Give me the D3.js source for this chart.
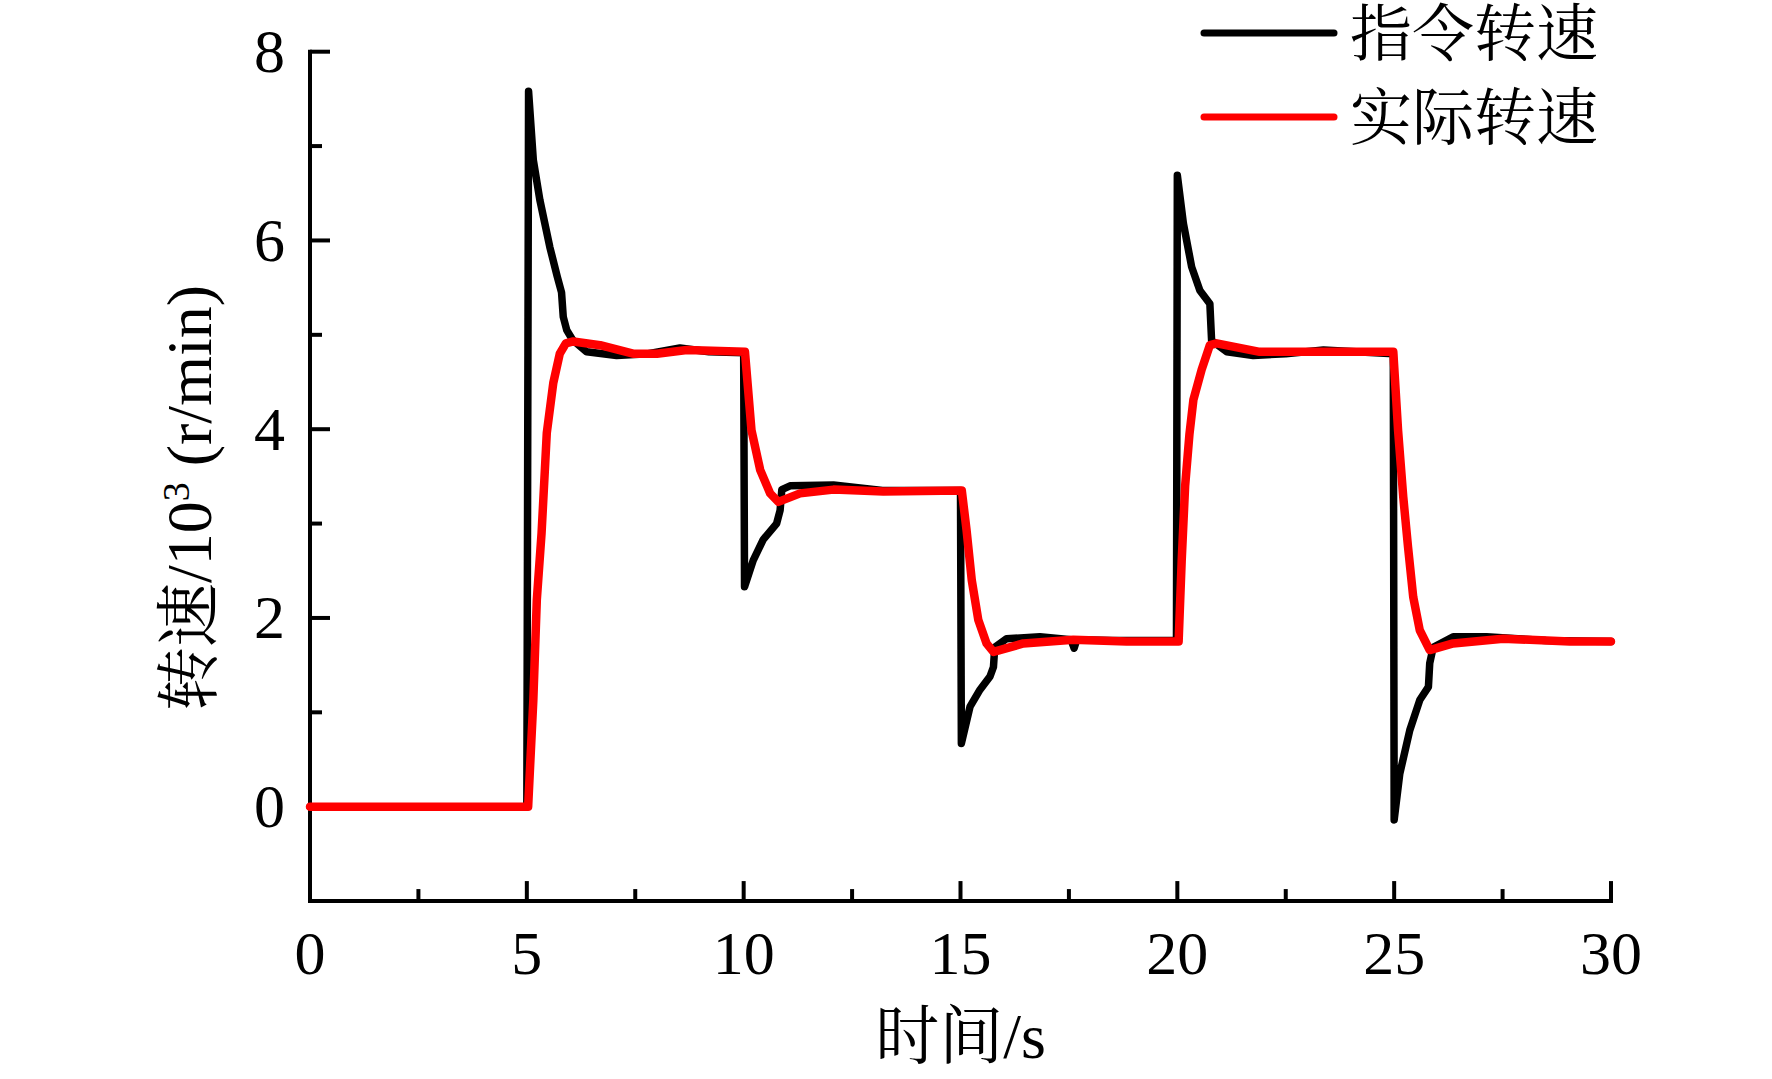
<!DOCTYPE html>
<html>
<head>
<meta charset="utf-8">
<script src="https://cdn.jsdelivr.net/npm/d3@7"></script>
<style>
  html, body { margin: 0; padding: 0; background: #fff; }
  svg { display: block; }
</style>
</head>
<body>
<svg id="chart" width="1772" height="1079"></svg>
<script>
// ---- data ----
const seriesNames = ["指令转速", "实际转速"];
const seriesColors = ["#000000", "#ff0000"];
const xTickValues = [0, 5, 10, 15, 20, 25, 30];
const yTickValues = [0, 2, 4, 6, 8];
const xTitle = "时间/s";
const yTitleMain = "转速/10";
const yTitleSup = "3";
const yTitleUnit = " (r/min)";

// command speed (black): [time s, speed x10^3 r/min]
const commandTime = [0, 5.0, 5.04, 5.15, 5.30, 5.53, 5.70, 5.80, 5.84, 5.92, 6.05, 6.38, 7.07, 7.8, 8.53, 9.2, 10.0,
  10.02, 10.22, 10.45, 10.76, 10.84, 10.88, 11.07, 12.07, 13.2, 15.0,
  15.02, 15.22, 15.45, 15.68, 15.76, 15.79, 16.06, 16.83, 17.55, 17.62, 17.68, 18.5, 19.98,
  20.0, 20.14, 20.33, 20.52, 20.75, 20.79, 21.14, 21.75, 22.5, 23.37, 24.98,
  25.0, 25.13, 25.36, 25.59, 25.79, 25.82, 25.9, 26.36, 27.13, 28.5, 30];
const commandSpeed = [0, 0, 7.58, 6.85, 6.43, 5.93, 5.62, 5.45, 5.19, 5.05, 4.95, 4.82, 4.78, 4.80, 4.86, 4.82, 4.81,
  2.33, 2.61, 2.83, 3.00, 3.14, 3.36, 3.40, 3.41, 3.35, 3.35,
  0.67, 1.06, 1.24, 1.38, 1.48, 1.69, 1.78, 1.80, 1.77, 1.68, 1.77, 1.76, 1.76,
  6.69, 6.18, 5.72, 5.47, 5.33, 4.94, 4.82, 4.78, 4.80, 4.84, 4.80,
  -0.14, 0.35, 0.81, 1.13, 1.27, 1.52, 1.69, 1.80, 1.80, 1.76, 1.75];

// actual speed (red)
const actualTime = [0, 5.03, 5.15, 5.23, 5.34, 5.46, 5.61, 5.76, 5.9, 6.07, 6.69, 7.45, 8.0, 8.69, 10.03,
  10.18, 10.38, 10.61, 10.80, 11.30, 12.07, 13.22, 15.03,
  15.14, 15.26, 15.41, 15.60, 15.76, 16.45, 17.6, 18.83, 20.03,
  20.1, 20.18, 20.28, 20.37, 20.56, 20.75, 20.91, 21.90, 23.44, 24.98,
  25.09, 25.21, 25.32, 25.44, 25.59, 25.82, 26.36, 27.51, 29.05, 30];
const actualSpeed = [0, 0, 1.13, 2.19, 2.90, 3.96, 4.49, 4.80, 4.91, 4.93, 4.89, 4.80, 4.80, 4.84, 4.82,
  3.99, 3.57, 3.32, 3.23, 3.32, 3.36, 3.34, 3.35,
  2.93, 2.40, 1.98, 1.73, 1.64, 1.73, 1.77, 1.75, 1.75,
  2.6, 3.4, 3.95, 4.31, 4.63, 4.89, 4.91, 4.82, 4.82, 4.82,
  3.99, 3.28, 2.75, 2.22, 1.87, 1.66, 1.73, 1.78, 1.75, 1.75];

// ---- layout ----
const svg = d3.select("#chart");
const serif = "'Times New Roman', 'Liberation Serif', 'Noto Serif CJK SC', 'Noto Sans CJK SC', serif";
const left = 310, right = 1611, yTopPx = 51.7, yZeroPx = 806.7;

const x = d3.scaleLinear().domain([0, 30]).range([left, right]);
const y = d3.scaleLinear().domain([0, 8]).range([yZeroPx, yTopPx]);
const yBottom = y(-1);

// axes lines
const axisG = svg.append("g").attr("stroke", "#000").attr("stroke-width", 4).attr("fill", "none");
axisG.append("path").attr("d", `M${x(0)},${y(8)}V${yBottom}H${x(30)}`).attr("stroke-linecap", "square");

// x ticks (inward)
const xMinor = d3.range(2.5, 30, 5);
axisG.selectAll(".xmaj").data(xTickValues).join("line")
  .attr("x1", d => x(d)).attr("x2", d => x(d)).attr("y1", yBottom).attr("y2", yBottom - 20);
axisG.selectAll(".xmin").data(xMinor).join("line")
  .attr("x1", d => x(d)).attr("x2", d => x(d)).attr("y1", yBottom).attr("y2", yBottom - 12);

// y ticks (inward)
const yMinor = [1, 3, 5, 7];
axisG.selectAll(".ymaj").data(yTickValues).join("line")
  .attr("x1", x(0)).attr("x2", x(0) + 20).attr("y1", d => y(d)).attr("y2", d => y(d));
axisG.selectAll(".ymin").data(yMinor).join("line")
  .attr("x1", x(0)).attr("x2", x(0) + 12).attr("y1", d => y(d)).attr("y2", d => y(d));

// tick labels
svg.append("g").selectAll("text").data(xTickValues).join("text")
  .attr("x", d => x(d)).attr("y", 974)
  .attr("text-anchor", "middle")
  .style("font-family", serif).style("font-size", "62px")
  .text(d => d);

svg.append("g").selectAll("text").data(yTickValues).join("text")
  .attr("x", 285).attr("y", d => y(d))
  .attr("dy", "0.33em")
  .attr("text-anchor", "end")
  .style("font-family", serif).style("font-size", "62px")
  .text(d => d);

// axis titles
svg.append("text")
  .attr("x", x(15)).attr("y", 1058)
  .attr("text-anchor", "middle")
  .style("font-family", serif).style("font-size", "64px")
  .text(xTitle);

const yt = svg.append("text")
  .attr("transform", `translate(211,498) rotate(-90)`)
  .attr("text-anchor", "middle")
  .style("font-family", serif).style("font-size", "64px");
yt.append("tspan").text(yTitleMain);
yt.append("tspan").attr("dy", -22).style("font-size", "38px").text(yTitleSup);
yt.append("tspan").attr("dy", 22).text(yTitleUnit);

// lines
const line = d3.line().x(d => x(d[0])).y(d => y(d[1])).curve(d3.curveLinear);
const commandData = commandTime.map((t, i) => [t, commandSpeed[i]]);
const actualData = actualTime.map((t, i) => [t, actualSpeed[i]]);
const widths = [7.5, 8.5];

[commandData, actualData].forEach((data, i) => {
  svg.append("path").datum(data)
    .attr("d", line)
    .attr("fill", "none")
    .attr("stroke", seriesColors[i])
    .attr("stroke-width", widths[i])
    .attr("stroke-linejoin", "round")
    .attr("stroke-linecap", "round");
});

// legend
const legY = [33, 117];
const lg = svg.append("g");
seriesNames.forEach((name, i) => {
  lg.append("line")
    .attr("x1", 1204).attr("x2", 1334).attr("y1", legY[i]).attr("y2", legY[i])
    .attr("stroke", seriesColors[i]).attr("stroke-width", 7).attr("stroke-linecap", "round");
  lg.append("text")
    .attr("x", 1350).attr("y", legY[i] + 1).attr("dy", "0.36em")
    .style("font-family", serif).style("font-size", "62px")
    .text(name);
});
</script>
</body>
</html>
